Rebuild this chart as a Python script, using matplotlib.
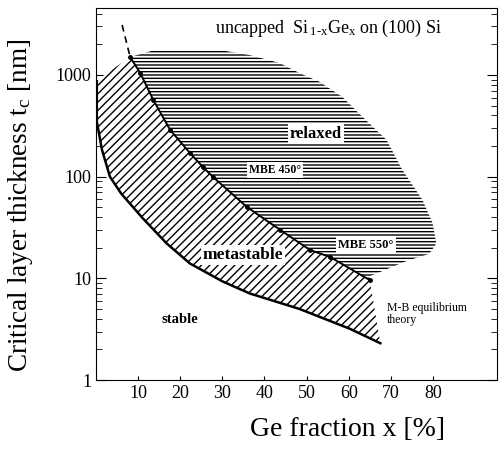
import matplotlib
matplotlib.use("Agg")
import matplotlib.pyplot as plt

plt.rcParams['font.family'] = ['Liberation Serif', 'DejaVu Serif']
plt.rcParams['hatch.linewidth'] = 1.0
plt.rcParams['mathtext.fontset'] = 'custom'
plt.rcParams['mathtext.rm'] = 'Liberation Serif'
plt.rcParams['mathtext.it'] = 'Liberation Serif'

# Matthews-Blakeslee equilibrium curve
eq_x = [0.3, 1.4, 3.3, 6.0, 11.1, 16.8, 22.3, 30.1, 36.5, 48.3, 60.2, 67.5]
eq_t = [330, 185, 100, 68, 39, 22, 14, 9.3, 7.1, 5.0, 3.2, 2.3]

# MBE boundary (metastable / relaxed)
mbe_x = [8.1, 10.5, 13.6, 17.6, 22.3, 25.4, 27.8, 35.9, 43.7, 50.8, 55.6, 65.0]
mbe_t = [1503, 1046, 568, 288, 171, 124, 99, 50, 30, 19, 16.2, 9.6]

# dashed extension at top
dash_x = [6.2, 8.1]
dash_t = [3100, 1503]

# outline of relaxed region (upper part)
dome_x = [8.1, 14.0, 29.4, 36.5, 43.6, 48.3, 53.1, 58.5, 63.3, 69.0, 72.7,
          77.5, 79.9, 80.8, 79.1, 73.7, 65.0]
dome_t = [1503, 1760, 1760, 1570, 1310, 1045, 855, 607, 386, 229, 117,
          59, 35, 22, 17.4, 14.8, 10.5]

fig = plt.figure(figsize=(5, 4.51), dpi=100)
ax = fig.add_axes([0.192, 0.1574, 0.802, 0.8249])
ax.set_yscale('log')
ax.set_xlim(0, 95.2)
ax.set_ylim(1, 4560)

# relaxed region: horizontal hatch
rx = dome_x + mbe_x[::-1]
rt = dome_t + mbe_t[::-1]
ax.fill(rx, rt, facecolor='white', edgecolor='black', linewidth=0,
        hatch='-----', zorder=1)

# metastable region: diagonal hatch
mx = [0.3] + mbe_x + eq_x[::-1]
mt = [893] + mbe_t + eq_t[::-1]
ax.fill(mx, mt, facecolor='white', edgecolor='black', linewidth=0,
        hatch='////', zorder=2)

ax.plot(eq_x, eq_t, color='black', lw=1.8, zorder=3)
ax.plot(mbe_x, mbe_t, color='black', lw=1.4, zorder=3,
        marker='o', markersize=2.5, markevery=1)
ax.plot(dash_x, dash_t, color='black', lw=1.2, ls=(0, (4, 3)), zorder=3)
ax.plot([0.3, 0.3], [330, 893], color='black', lw=0.8, zorder=3)

box = dict(facecolor='white', edgecolor='none', pad=1.5)
ax.text(28.3, 2900, r'uncapped  Si$_{\,1\text{-}x}$Ge$_{x}$ on (100) Si',
        fontsize=13, va='center', ha='left')
ax.text(52.2, 263, 'relaxed', fontsize=12, fontweight='bold',
        ha='center', va='center', bbox=box, zorder=5)
ax.text(42.5, 116, 'MBE 450°', fontsize=8.5, fontweight='bold',
        ha='center', va='center', bbox=box, zorder=5)
ax.text(64.1, 21.3, 'MBE 550°', fontsize=9, fontweight='bold',
        ha='center', va='center', bbox=box, zorder=5)
ax.text(34.9, 17.0, 'metastable', fontsize=12.5, fontweight='bold',
        ha='center', va='center', bbox=box, zorder=5)
ax.text(19.8, 3.9, 'stable', fontsize=10.5, fontweight='bold',
        ha='center', va='center')
ax.text(69.1, 4.47, 'M-B equilibrium\ntheory', fontsize=8.5,
        ha='left', va='center', linespacing=1.0)

ax.set_xticks([10, 20, 30, 40, 50, 60, 70, 80])
ax.set_xticklabels(['10', '20', '30', '40', '50', '60', '70', '80'])
ax.set_yticks([1, 10, 100, 1000])
ax.set_yticklabels(['1', '10', '100', '1000'])
ax.tick_params(axis='both', which='both', direction='in', labelsize=13,
               right=True, top=False)
ax.tick_params(axis='y', which='major', length=7)
ax.tick_params(axis='y', which='minor', length=4)
ax.tick_params(axis='x', which='major', length=3)

for s in ax.spines.values():
    s.set_linewidth(0.8)

ax.set_xlabel('Ge fraction x [%]', fontsize=20)
ax.xaxis.set_label_coords(0.628, -0.1)
ax.set_ylabel('Critical layer thickness t$_c$ [nm]', fontsize=19.5)
ax.yaxis.set_label_coords(-0.152, 0.47)

fig.savefig('out.png', dpi=100)
